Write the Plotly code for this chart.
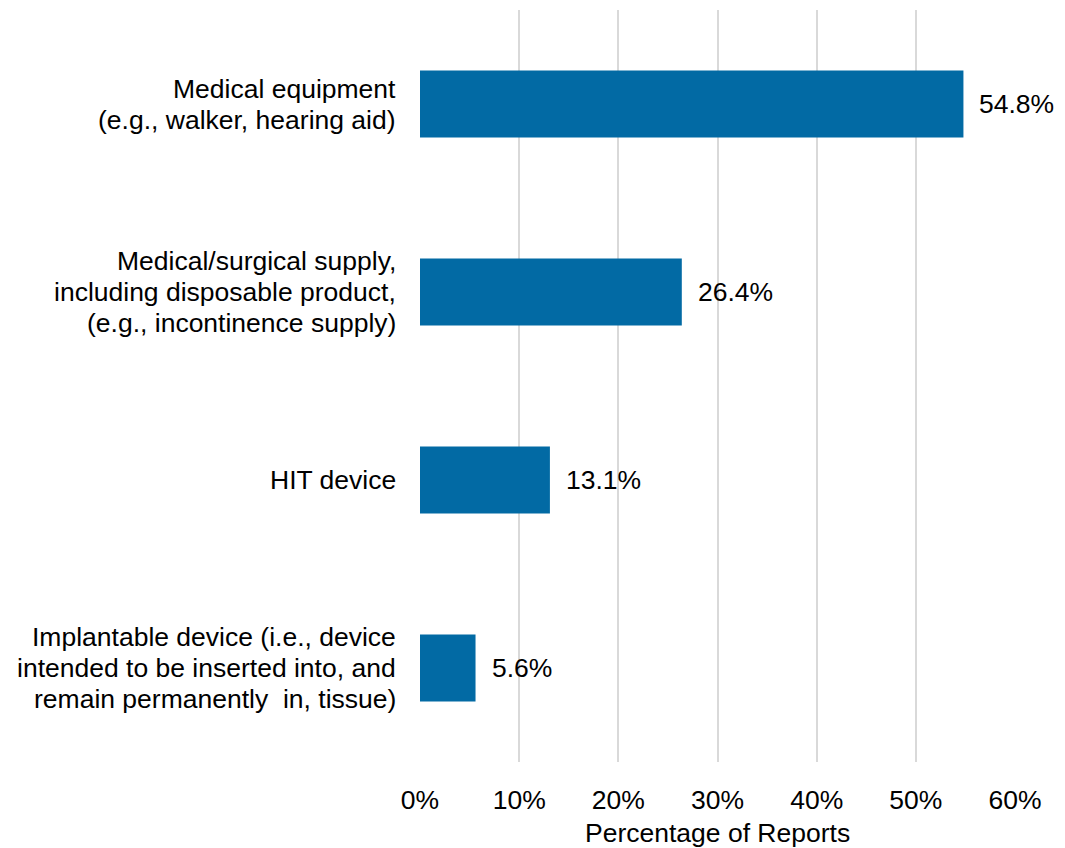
import plotly.graph_objects as go

categories = [
    "Medical equipment<br>(e.g., walker, hearing aid)",
    "Medical/surgical supply,<br>including disposable product,<br>(e.g., incontinence supply)",
    "HIT device",
    "Implantable device (i.e., device<br>intended to be inserted into, and<br>remain permanently  in, tissue)",
]
values = [54.8, 26.4, 13.1, 5.6]
value_labels = ["54.8%", "26.4%", "13.1%", "5.6%"]
x_ticks = [0, 10, 20, 30, 40, 50, 60]
x_tick_labels = ["0%", "10%", "20%", "30%", "40%", "50%", "60%"]

FONT = "Liberation Sans, Arial, sans-serif"
FS = 26.5
BAR_COLOR = "#026AA4"
LINE_GAP = 31  # px between label lines

fig = go.Figure()
fig.add_trace(go.Bar(
    x=values, y=categories, orientation="h",
    marker=dict(color=BAR_COLOR, line=dict(width=0)),
    width=0.357, hoverinfo="skip",
))

# value labels
for v, lab, cat in zip(values, value_labels, categories):
    fig.add_annotation(x=v, y=cat, text=lab, showarrow=False,
                       xanchor="left", yanchor="middle", xshift=14,
                       font=dict(family=FONT, size=FS, color="#000000"))

# category labels, one text per line for tighter line spacing
for cat in categories:
    lines = cat.split("<br>")
    n = len(lines)
    for i, ln in enumerate(lines):
        fig.add_annotation(x=0, y=cat, xref="x", yref="y", text=ln,
                           showarrow=False, xanchor="right", yanchor="middle",
                           xshift=-22, yshift=((n - 1) / 2 - i) * LINE_GAP,
                           font=dict(family=FONT, size=FS, color="#000000"))

fig.add_annotation(x=0.5, y=-0.094, xref="paper", yref="paper",
                   text="Percentage of Reports", showarrow=False,
                   xanchor="center", yanchor="middle",
                   font=dict(family=FONT, size=FS, color="#000000"))

fig.update_layout(
    width=1057, height=840,
    margin=dict(l=412, r=50, t=2, b=86),
    paper_bgcolor="white", plot_bgcolor="white",
    showlegend=False,
    font=dict(family=FONT, size=FS, color="#000000"),
    xaxis=dict(range=[0, 60], tickvals=x_ticks, ticktext=x_tick_labels,
               showgrid=True, gridcolor="#d9d9d9", gridwidth=1.5,
               zeroline=False, showline=False,
               ticks="outside", ticklen=14, tickcolor="rgba(0,0,0,0)",
               tickfont=dict(family=FONT, size=FS, color="#000000"),
               fixedrange=True),
    yaxis=dict(categoryorder="array", categoryarray=categories[::-1],
               range=[-0.5, 3.5], showticklabels=False,
               showgrid=False, zeroline=False, showline=False,
               fixedrange=True),
)

fig.write_html("out.html")
